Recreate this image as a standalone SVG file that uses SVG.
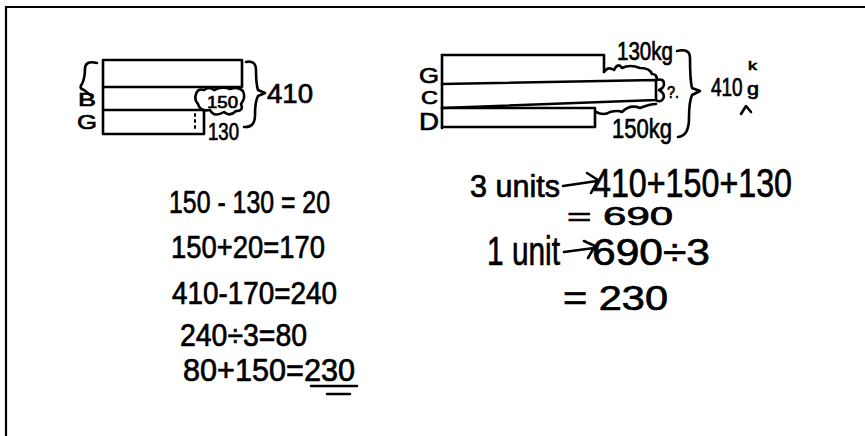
<svg xmlns="http://www.w3.org/2000/svg" width="865" height="436" viewBox="0 0 865 436">
<style>
.ink{fill:none;stroke:#000;stroke-width:2.6;stroke-linecap:round;stroke-linejoin:round}
.thin{fill:none;stroke:#000;stroke-width:2;stroke-linecap:round;stroke-linejoin:round}
text{font-family:"Liberation Sans","DejaVu Sans",sans-serif;fill:#000;stroke:#000;stroke-width:0.7}
.eq{font-size:32px}
</style>
<rect width="865" height="436" fill="#fff"/>
<path d="M6 436 V7 H865" fill="none" stroke="#000" stroke-width="2.2"/>

<g id="left-model">
  <rect class="ink" x="103" y="60" width="139" height="27"/>
  <path class="ink" d="M103 87 V134 M103 110 H204 V134 H103"/>
  <path class="thin" d="M195 114 V116 M195 120 V122 M195 126 V128"/>
  <path class="ink" d="M196 94 Q198 88 204 90 Q209 86 214 90 Q222 86 230 89 Q238 86 243 91 Q246 98 241 104 Q244 111 236 111 Q230 117 224 112 Q214 118 210 110 Q200 112 198 104 Q194 100 196 94 Z"/>
  <path class="ink" d="M97 63 Q86 60 85 68 Q85 78 82 84 Q78 88 84 90 Q88 93 90 95"/>
  <path class="ink" d="M246 62 Q256 60 256 70 Q256 84 258 90 L265 93 L258 96 Q255 102 255 115 Q255 128 244 127"/>
  <text x="78" y="106" font-size="19" textLength="18" lengthAdjust="spacingAndGlyphs">B</text>
  <text x="77" y="129" font-size="21" textLength="20" lengthAdjust="spacingAndGlyphs">G</text>
  <text x="207" y="108" font-size="17" textLength="31" lengthAdjust="spacingAndGlyphs">150</text>
  <text x="208" y="140" font-size="24" textLength="31" lengthAdjust="spacingAndGlyphs">130</text>
  <text x="267" y="103" font-size="28" textLength="46" lengthAdjust="spacingAndGlyphs">410</text>
</g>

<g id="left-working">
  <text class="eq" x="169" y="213" textLength="161" lengthAdjust="spacingAndGlyphs">150 - 130 = 20</text>
  <text class="eq" x="171" y="258" textLength="154" lengthAdjust="spacingAndGlyphs">150+20=170</text>
  <text class="eq" x="172" y="304" textLength="165" lengthAdjust="spacingAndGlyphs">410-170=240</text>
  <text class="eq" x="180" y="346" font-size="28" textLength="127" lengthAdjust="spacingAndGlyphs">240÷3=80</text>
  <text class="eq" x="183" y="381" font-size="30" textLength="172" lengthAdjust="spacingAndGlyphs">80+150=230</text>
  <path class="ink" d="M311 386 H357 M327 394 H350"/>
</g>

<g id="right-model">
  <path class="ink" d="M442 55 H604 V72"/>
  <path class="ink" d="M442 55 V128"/>
  <path class="ink" d="M442 84 L656 80 V100 L442 108"/>
  <path class="ink" d="M442 108 H595 V127 H442"/>
  <path class="ink" d="M604 72 Q608 66 614 70 Q618 62 622 68 Q630 64 640 68 Q650 68 652 74 Q657 74 657 80"/>
  <path class="ink" d="M596 112 Q604 116 610 112 Q618 110 622 112 Q630 104 640 108 Q650 104 656 104"/>
  <path class="ink" d="M656 80 Q664 78 664 84 Q664 88 659 90 Q666 94 663 99 Q660 103 656 100"/>
  <path class="ink" d="M677 51 Q690 48 690 58 Q690 80 692 88 L700 91 L692 95 Q689 102 689 118 Q689 136 678 137"/>
  <path class="ink" d="M741 114 L746 106 L751 112"/>
  <text x="419" y="83" font-size="22" textLength="20" lengthAdjust="spacingAndGlyphs">G</text>
  <text x="421" y="104" font-size="18" textLength="17" lengthAdjust="spacingAndGlyphs">C</text>
  <text x="419" y="130" font-size="24" textLength="20" lengthAdjust="spacingAndGlyphs">D</text>
  <text x="617" y="60" font-size="25" textLength="56" lengthAdjust="spacingAndGlyphs">130kg</text>
  <text x="612" y="138" font-size="27" textLength="60" lengthAdjust="spacingAndGlyphs">150kg</text>
  <text x="667" y="98" font-size="17" textLength="12" lengthAdjust="spacingAndGlyphs">?.</text>
  <text transform="translate(711 96) scale(0.76 1)" font-size="25">410</text>
  <text x="748" y="70" font-size="13" textLength="9" lengthAdjust="spacingAndGlyphs">k</text>
  <text x="747" y="95" font-size="19" textLength="12" lengthAdjust="spacingAndGlyphs">g</text>
</g>

<g id="right-working">
  <text x="470" y="197" font-size="31" textLength="90" lengthAdjust="spacingAndGlyphs">3 units</text>
  <text x="593" y="197" font-size="40" textLength="199" lengthAdjust="spacingAndGlyphs">410+150+130</text>
  <text x="567" y="225" font-size="26" textLength="106" lengthAdjust="spacingAndGlyphs">= 690</text>
  <text x="487" y="265" font-size="40" textLength="73" lengthAdjust="spacingAndGlyphs">1 unit</text>
  <text x="592" y="265" font-size="37" textLength="118" lengthAdjust="spacingAndGlyphs">690÷3</text>
  <text x="563" y="310" font-size="35" textLength="105" lengthAdjust="spacingAndGlyphs">= 230</text>
</g>

<g id="connectors">
  <path class="ink" d="M563 186 L597 181 M587 173 L598 180 L591 193"/>
  <path class="ink" d="M564 252 L594 248 M584 241 L595 246 L588 258"/>
</g>
</svg>
